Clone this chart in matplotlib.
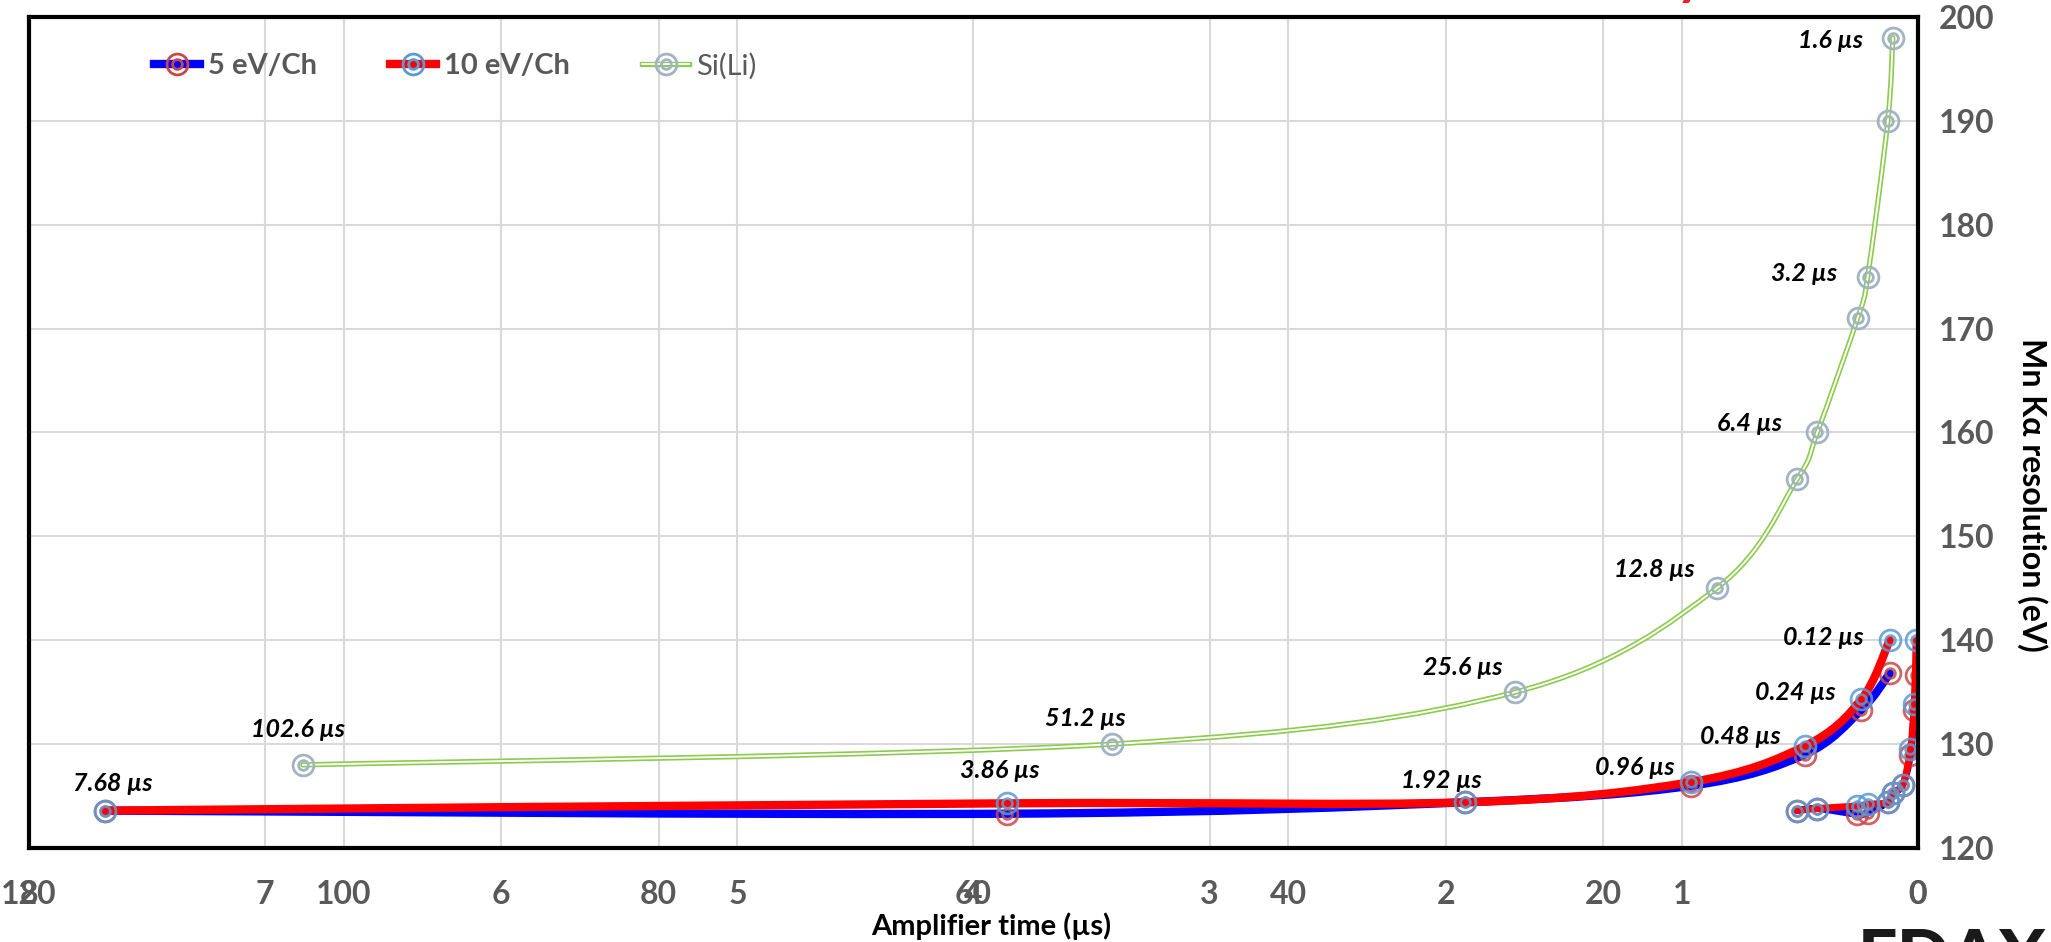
import numpy as np
import matplotlib
matplotlib.use("Agg")
import matplotlib.pyplot as plt
import matplotlib.patheffects as pe
from matplotlib.path import Path
from matplotlib.patches import PathPatch
from matplotlib.lines import Line2D
from matplotlib.legend_handler import HandlerTuple
from matplotlib.ticker import FixedLocator

# ---- data -------------------------------------------------------------
# SDD resolution vs amplifier time (secondary time scale, 0-8 us)
sdd_times = [7.68, 3.86, 1.92, 0.96, 0.48, 0.24, 0.12]
sdd_res_5ev = [123.6, 123.3, 124.4, 126.0, 129.0, 133.3, 136.8]
sdd_res_10ev = [123.6, 124.3, 124.4, 126.35, 129.8, 134.3, 140.0]

# SDD data repeated on the Si(Li) time scale (0-120 us)
sdd_wide_times = [7.68, 6.4, 3.86, 3.2, 1.92, 1.6, 0.96, 0.48, 0.24, 0.12]
sdd_wide_res_5ev = [123.6, 123.8, 123.25, 123.4, 124.4, 125.3, 126.1, 129.0, 133.3, 136.7]
sdd_wide_res_10ev = [123.6, 123.8, 124.05, 124.2, 124.4, 125.3, 126.1, 129.5, 133.9, 140.0]

# Si(Li) detector
sili_times = [102.6, 51.2, 25.6, 12.8, 7.68, 6.4, 3.84, 3.2, 1.92, 1.6]
sili_res = [128.0, 130.0, 135.0, 145.0, 155.5, 160.0, 171.0, 175.0, 190.0, 198.0]
sili_labeled = [102.6, 51.2, 25.6, 12.8, 6.4, 3.2, 1.6]

sili_time_ticks = [0, 20, 40, 60, 80, 100, 120]
sdd_time_ticks = [0, 1, 2, 3, 4, 5, 6, 7, 8]
res_ticks = [120, 130, 140, 150, 160, 170, 180, 190, 200]

series_labels = ["5 eV/Ch", "10 eV/Ch", "Si(Li)"]
x_title = "Amplifier time (µs)"
y_title = "Mn Kα resolution (eV)"

# ---- styling ----------------------------------------------------------
BLUE = "#0000FF"
RED = "#FF0000"
RED_RING = "#C84848"
BLUE_RING = "#5B9BD5"
GREY_RING = "#A2B4C4"
GREEN = "#8CCB4E"
GRID = "#D9D9D9"
TICK_GREY = "#595959"
FONT = "Lato"

# label offsets in pixels (dx, dy) from the labelled point
sdd_label_offsets = [(8, 27), (-7, 33), (-23, 22), (-57, 15), (-64, 10), (-66, 7), (-66, 3)]
sili_label_offsets = [(-5, 35), (-27, 26), (-52, 25), (-62, 19), (-68, 9), (-64, 3), (-62, -3)]

plt.rcParams["font.family"] = [FONT, "DejaVu Sans"]

W, H = 2051, 942
fig = plt.figure(figsize=(W / 100, H / 100), dpi=100)
rect = [29 / W, 1 - 848 / H, (1918 - 29) / W, (848 - 17) / H]

# lower axes: SDD time scale, carries all gridlines
ax2 = fig.add_axes(rect)
# upper axes: Si(Li) time scale, transparent
ax = fig.add_axes(rect, sharey=ax2)
ax.patch.set_visible(False)

ax2.set_xlim(8, 0)
ax.set_xlim(120, 0)
ax2.set_ylim(120, 200)

ax2.set_xticks(sdd_time_ticks)
ax2.xaxis.set_minor_locator(FixedLocator([t * 8 / 120 for t in sili_time_ticks]))
ax2.set_yticks(res_ticks)
ax2.grid(True, which="both", axis="x", color=GRID, lw=1.5)
ax2.grid(True, which="major", axis="y", color=GRID, lw=1.5)
ax2.set_axisbelow(True)
ax2.tick_params(axis="both", which="both", length=0)
ax2.tick_params(axis="y", labelleft=False)
ax2.tick_params(axis="x", pad=23, labelsize=23, labelcolor=TICK_GREY)
for s in ax2.spines.values():
    s.set_visible(False)

ax.set_xticks(sili_time_ticks)
ax.yaxis.tick_right()
ax.tick_params(axis="both", length=0)
ax.tick_params(axis="x", pad=23, labelsize=23, labelcolor=TICK_GREY)
ax.tick_params(axis="y", pad=15, labelsize=23, labelcolor=TICK_GREY)
for lab in ax.get_xticklabels() + ax.get_yticklabels() + ax2.get_xticklabels():
    lab.set_fontweight("bold")
for s in ax.spines.values():
    s.set_linewidth(3)
    s.set_color("black")
    s.set_zorder(20)


def smooth_path(xs, ys):
    """Catmull-Rom style cubic Bezier through the points."""
    pts = np.column_stack([xs, ys]).astype(float)
    n = len(pts)
    verts = [pts[0]]
    codes = [Path.MOVETO]
    for i in range(n - 1):
        p0 = pts[i - 1] if i > 0 else pts[i]
        p1 = pts[i]
        p2 = pts[i + 1]
        p3 = pts[i + 2] if i + 2 < n else pts[i + 1]
        verts += [p1 + (p2 - p0) / 6, p2 - (p3 - p1) / 6, p2]
        codes += [Path.CURVE4] * 3
    return Path(verts, codes)


def curve(axis, xs, ys, color, lw, z, effects=None):
    patch = PathPatch(smooth_path(xs, ys), facecolor="none", edgecolor=color,
                      lw=lw, zorder=z, transform=axis.transData, capstyle="round",
                      path_effects=effects)
    axis.add_patch(patch)


def rings(axis, xs, ys, color, z, alpha=0.85):
    axis.plot(xs, ys, ls="none", marker="o", ms=15, mfc="none", mec=color,
              mew=2.0, alpha=alpha, zorder=z)
    axis.plot(xs, ys, ls="none", marker="o", ms=7, mfc="none", mec=color,
              mew=2.0, alpha=alpha, zorder=z)


double_green = [pe.Stroke(linewidth=3.8, foreground=GREEN),
                pe.Stroke(linewidth=1.4, foreground="white")]

# SDD curves on their own time scale
curve(ax2, sdd_times, sdd_res_5ev, BLUE, 6, 2)
rings(ax2, sdd_times, sdd_res_5ev, RED_RING, 3)
curve(ax2, sdd_times, sdd_res_10ev, RED, 6, 4)
rings(ax2, sdd_times, sdd_res_10ev, BLUE_RING, 5)

# Si(Li) curve
curve(ax, sili_times, sili_res, GREEN, 3.8, 2, double_green)
rings(ax, sili_times, sili_res, GREY_RING, 3, alpha=1.0)

# SDD curves on the Si(Li) time scale
curve(ax, sdd_wide_times, sdd_wide_res_5ev, BLUE, 5, 4)
rings(ax, sdd_wide_times, sdd_wide_res_5ev, RED_RING, 5)
curve(ax, sdd_wide_times, sdd_wide_res_10ev, RED, 5, 6)
rings(ax, sdd_wide_times, sdd_wide_res_10ev, BLUE_RING, 7)

label_style = dict(textcoords="offset pixels", ha="center", va="center",
                   fontsize=18, fontweight="bold", fontstyle="italic",
                   color="black", zorder=10)
for t, r, off in zip(sdd_times, sdd_res_10ev, sdd_label_offsets):
    ax2.annotate(f"{t:g} µs", xy=(t, r), xytext=off, **label_style)
for t, off in zip(sili_labeled, sili_label_offsets):
    r = sili_res[sili_times.index(t)]
    ax.annotate(f"{t:g} µs", xy=(t, r), xytext=off, **label_style)


# legend
def ring_handles(color):
    return (Line2D([], [], ls="none", marker="o", ms=15, mfc="none", mec=color, mew=2.0),
            Line2D([], [], ls="none", marker="o", ms=7, mfc="none", mec=color, mew=2.0))


handles = [
    (Line2D([], [], color=BLUE, lw=6),) + ring_handles(RED_RING),
    (Line2D([], [], color=RED, lw=6),) + ring_handles(BLUE_RING),
    (Line2D([], [], color=GREEN, lw=3.8, path_effects=double_green),) + ring_handles(GREY_RING),
]
leg = ax.legend(handles, series_labels, handler_map={tuple: HandlerTuple(ndivide=1)},
                loc="center left", bbox_to_anchor=(0.066, 0.941), ncol=3, frameon=False,
                fontsize=21, handlelength=1.6, handletextpad=0.25, columnspacing=2.5,
                borderpad=0, borderaxespad=0)
for i, txt in enumerate(leg.get_texts()):
    txt.set_color(TICK_GREY)
    txt.set_fontweight("bold" if i < 2 else "normal")

# axis titles
fig.text(991 / W, 1 - 926 / H, x_title, ha="center", va="center",
         fontsize=21, fontweight="bold", color="black")
fig.text(2032 / W, 1 - 495 / H, y_title, ha="center", va="center", rotation=270,
         fontsize=23, fontweight="bold", color="black")

# heading and logo running off the canvas edges
fig.text(1690 / W, 1 + 6 / H, "y", ha="center", va="baseline", fontsize=40,
         fontweight="bold", color="#E8202A")
fig.text(1858 / W, 1 - 928 / H, "EDAX", ha="left", va="top", fontsize=50,
         fontweight="black", color="#1A1A1A")

fig.savefig("out.png", dpi=100)
